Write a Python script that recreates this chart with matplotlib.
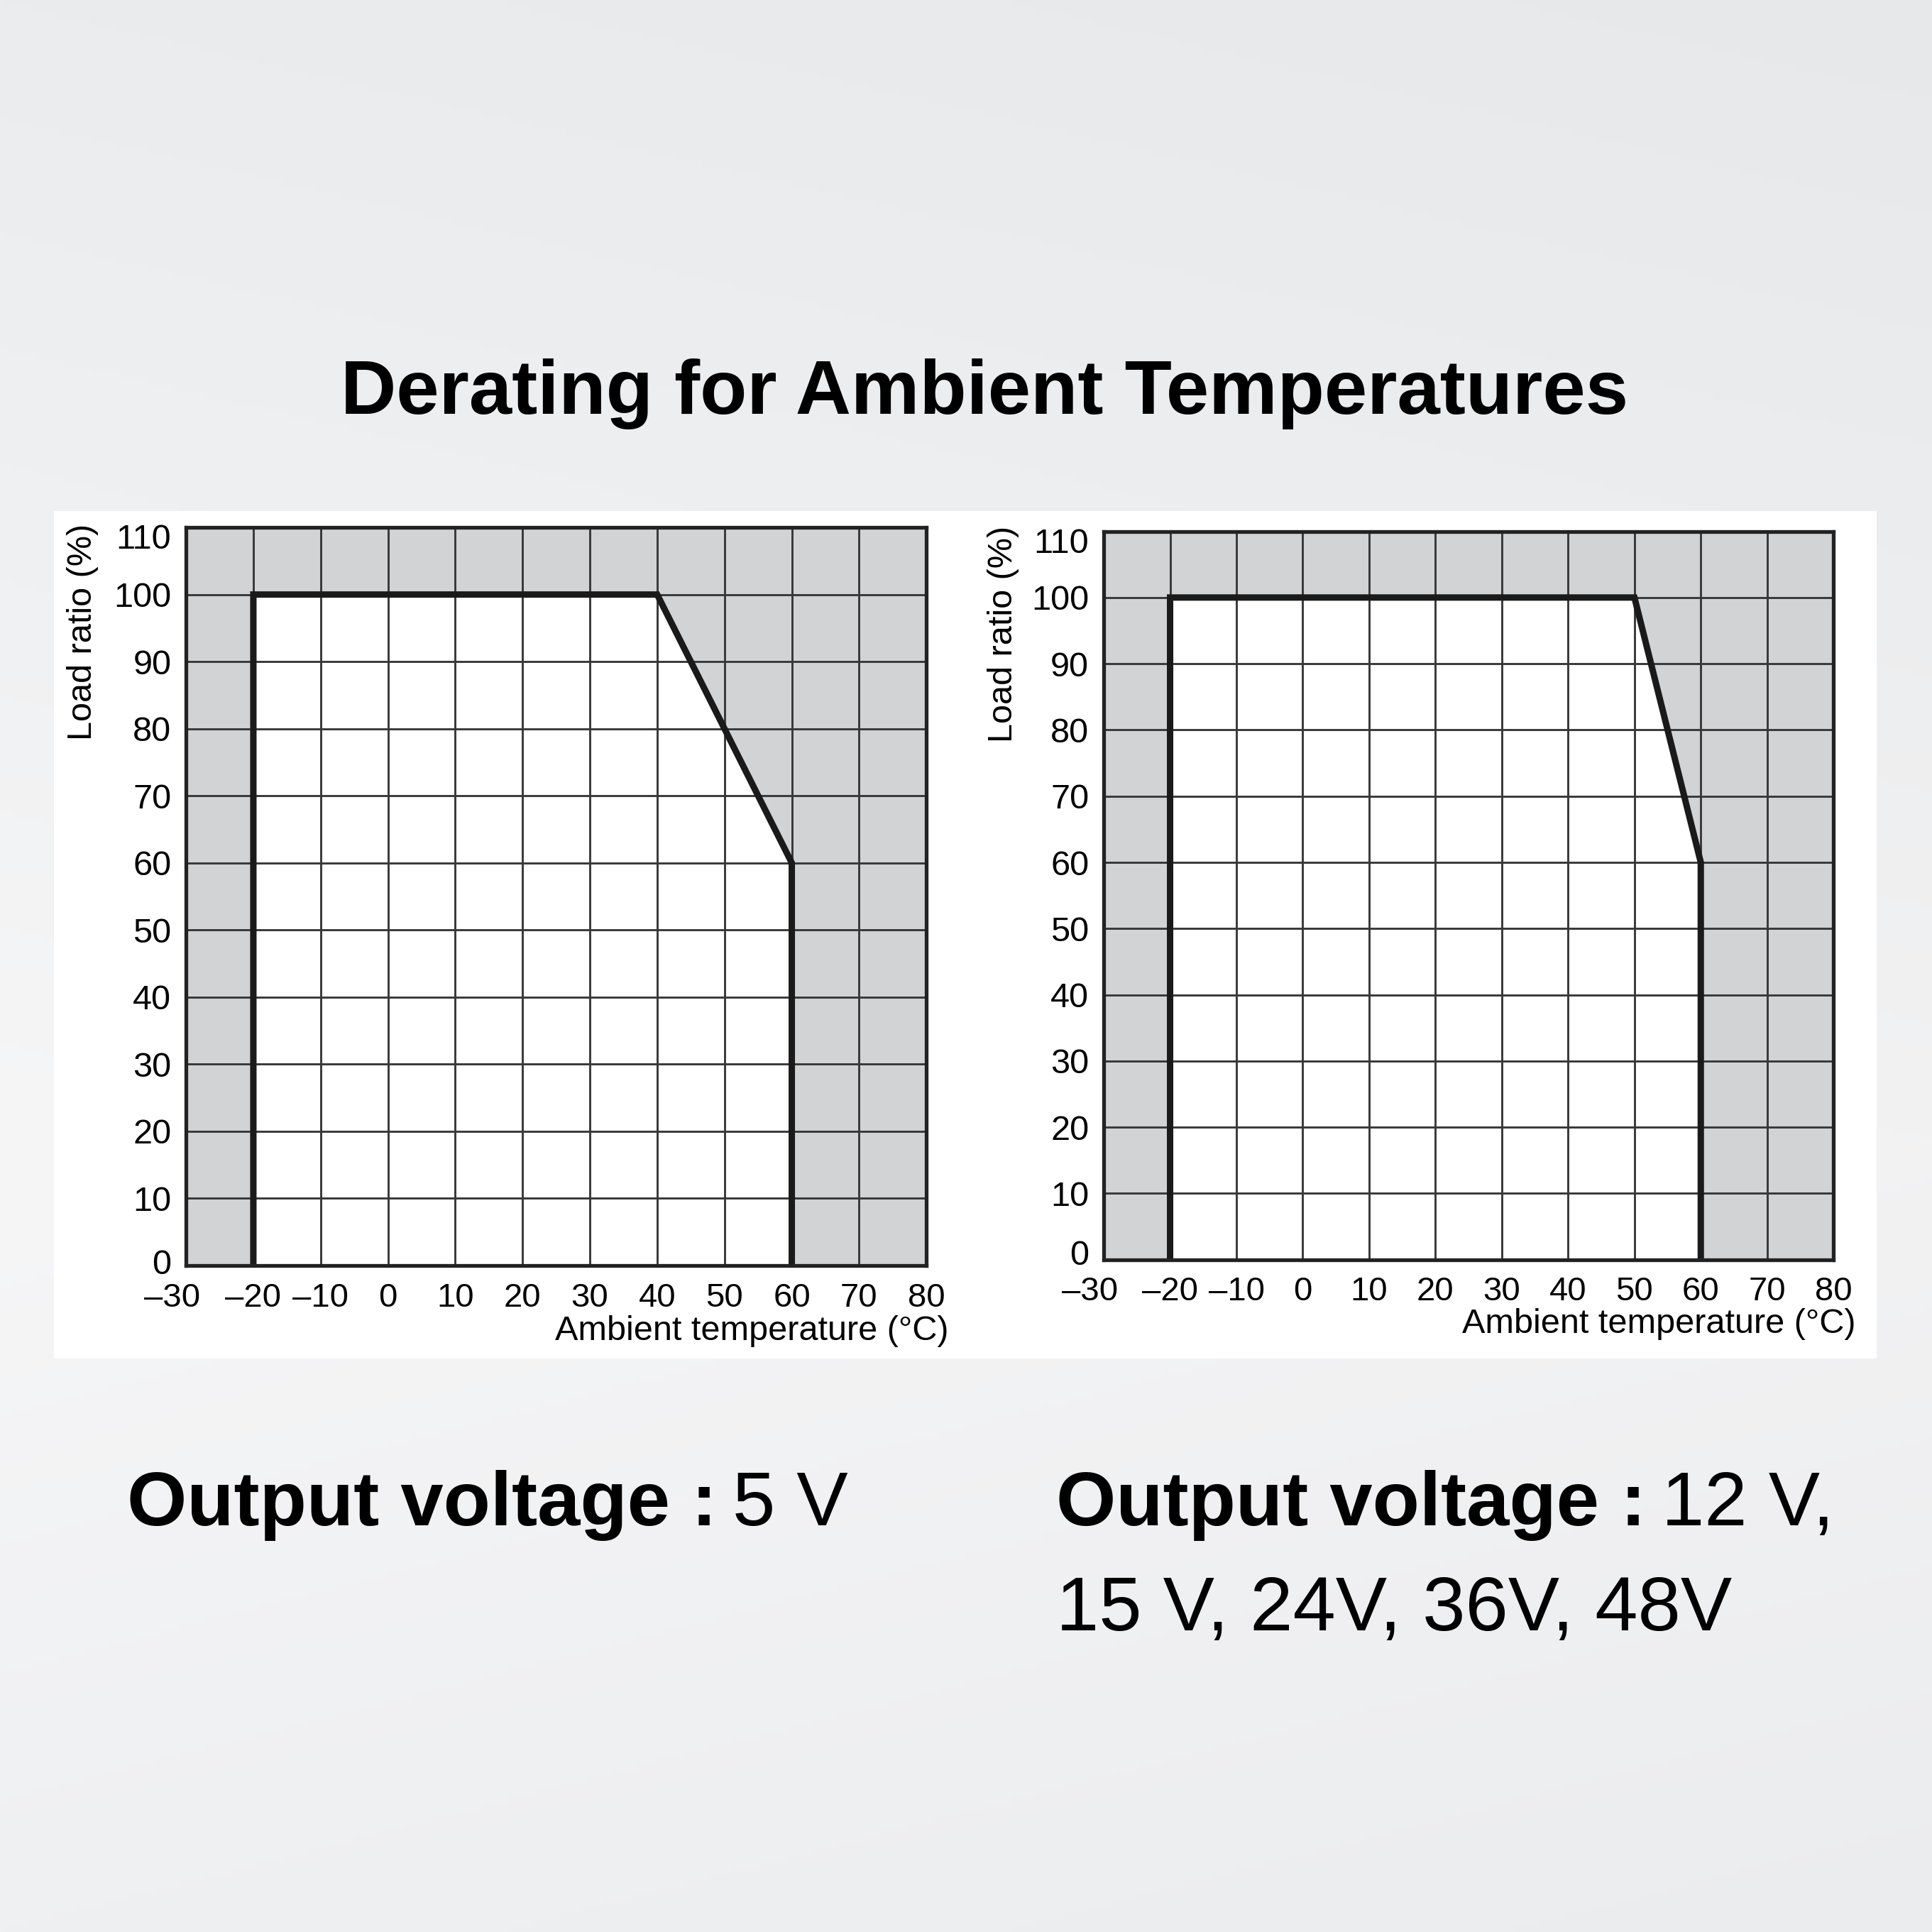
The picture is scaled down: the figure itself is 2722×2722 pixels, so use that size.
import matplotlib.pyplot as plt
import numpy as np
from matplotlib.patches import Rectangle
from matplotlib.colors import to_rgb
from matplotlib.transforms import ScaledTranslation

# data
temp_ticks = [-30, -20, -10, 0, 10, 20, 30, 40, 50, 60, 70, 80]
load_ticks = [0, 10, 20, 30, 40, 50, 60, 70, 80, 90, 100, 110]
temp_5v = [-20, -20, 40, 60, 60]
load_5v = [0, 100, 100, 60, 0]
temp_hv = [-20, -20, 50, 60, 60]
load_hv = [0, 100, 100, 60, 0]

title = 'Derating for Ambient Temperatures'
caption_bold = 'Output voltage :'
caption_5v = ['5 V']
caption_hv = ['12 V,', '15 V, 24V, 36V, 48V']

shade = '#d1d3d5'
gridc = '#383838'
tickfont = ['Liberation Sans Narrow', 'Liberation Sans', 'DejaVu Sans']
headfont = ['Liberation Sans', 'DejaVu Sans']

fig = plt.figure(figsize=(27.22, 27.22), dpi=100)

# soft grey backdrop
bg = fig.add_axes([0, 0, 1, 1], zorder=-10)
yy = np.linspace(0, 1, 300)[:, None]
xx = np.linspace(0, 1, 300)[None, :]
top = np.array(to_rgb('#eaeced'))
mid = np.array(to_rgb('#f6f6f7'))
low = np.array(to_rgb('#eff0f2'))
w = np.clip(yy / 0.6, 0, 1)[..., None]
img = top * (1 - w) + mid * w
w2 = np.clip((yy - 0.6) / 0.4, 0, 1)[..., None]
img = img * (1 - w2) + low * w2
img = img - 0.015 * xx[..., None]
bg.imshow(np.clip(img, 0, 1), extent=[0, 1, 0, 1], aspect='auto', origin='upper')
bg.set_axis_off()

# white panels behind charts
fig.patches.append(Rectangle((0.028, 0.297), 0.470, 0.4385, transform=fig.transFigure,
                             facecolor='white', edgecolor='none', zorder=-5))
fig.patches.append(Rectangle((0.498, 0.297), 0.4735, 0.4385, transform=fig.transFigure,
                             facecolor='white', edgecolor='none', zorder=-5))


def derating(rect, temps, loads, ylab_x, ylab_y, zero_up):
    ax = fig.add_axes(rect)
    ax.set_facecolor(shade)
    ax.fill(temps, loads, color='white', zorder=1, lw=0)
    ax.plot(temps, loads, color='#1a1a1a', lw=6.5, zorder=4,
            solid_joinstyle='miter', solid_capstyle='butt')
    ax.set_xlim(-30, 80)
    ax.set_ylim(0, 110)
    ax.set_xticks(temp_ticks)
    ax.set_yticks(load_ticks)
    xl = ax.set_xticklabels([str(t).replace('-', '–') for t in temp_ticks],
                            family=tickfont, fontsize=34)
    yl = ax.set_yticklabels([str(v) for v in load_ticks], family=tickfont, fontsize=35)
    ax.tick_params(length=0, pad=15)
    ax.tick_params(axis='x', pad=17)
    # first x label sits a little left, end y labels tucked inside the frame
    xl[0].set_transform(xl[0].get_transform() +
                        ScaledTranslation(-0.2, 0, fig.dpi_scale_trans))
    yl[-1].set_va('top')
    yl[-1].set_transform(yl[-1].get_transform() +
                         ScaledTranslation(0, 0.05, fig.dpi_scale_trans))
    yl[0].set_transform(yl[0].get_transform() +
                        ScaledTranslation(0, zero_up, fig.dpi_scale_trans))
    ax.set_axisbelow(False)
    ax.grid(True, color=gridc, lw=2.1, zorder=2)
    for s in ax.spines.values():
        s.set_linewidth(3.8)
        s.set_color('#222222')
        s.set_zorder(5)
    ax.text(ylab_x, ylab_y, 'Load ratio (%)', transform=ax.transAxes, rotation=90,
            ha='center', va='top', family=tickfont, fontsize=35)
    ax.text(1.03, -0.101, 'Ambient temperature (°C)', transform=ax.transAxes,
            ha='right', va='baseline', family=tickfont, fontsize=35)
    return ax


derating([0.0963, 0.345, 0.3832, 0.382], temp_5v, load_5v, -0.14, 1.005, 0.05)
derating([0.5713, 0.348, 0.3777, 0.377], temp_hv, load_hv, -0.138, 1.007, 0.1)

fig.text(0.5096, 0.786, title, ha='center', va='baseline', family=headfont,
         weight='bold', fontsize=78)

fig.canvas.draw()
r = fig.canvas.get_renderer()


def caption(x, y, lines):
    tb = fig.text(x, y, caption_bold, ha='left', va='baseline', family=headfont,
                  weight='bold', fontsize=78)
    bb = tb.get_window_extent(r)
    xr = bb.x1 / fig.bbox.width + 0.008
    fig.text(xr, y, lines[0], ha='left', va='baseline', family=headfont,
             weight='normal', fontsize=78)
    for i, ln in enumerate(lines[1:]):
        fig.text(x, y - 0.0545 * (i + 1), ln, ha='left', va='baseline',
                 family=headfont, weight='normal', fontsize=78)


caption(0.0657, 0.2105, caption_5v)
caption(0.5466, 0.2105, caption_hv)

fig.savefig('out.png', dpi=100)
